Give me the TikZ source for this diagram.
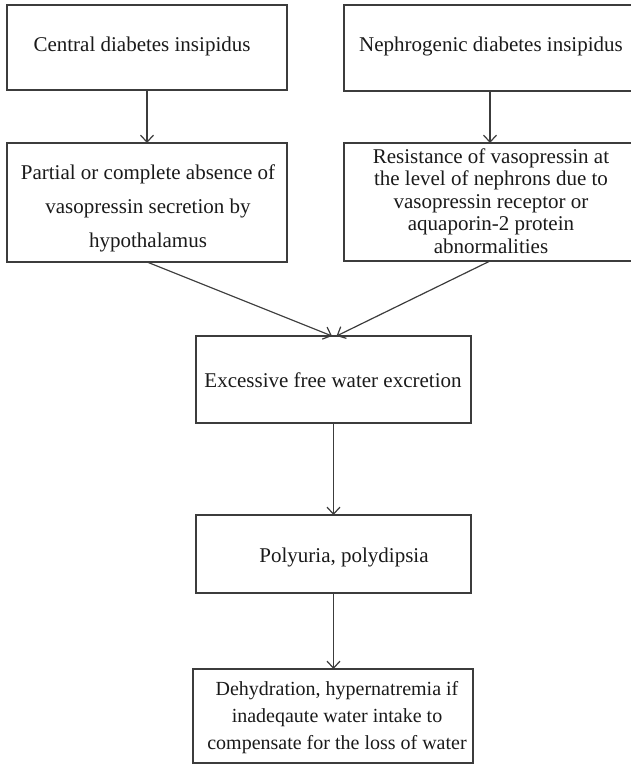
\documentclass[tikz,border=0pt]{standalone}
\usepackage{fontspec}
\setmainfont{Liberation Serif}
\usetikzlibrary{arrows.meta,calc}
\definecolor{linegray}{HTML}{3C3C3C}
\definecolor{textblack}{HTML}{1A1A1A}
\begin{document}
\begin{tikzpicture}[x=1pt,y=-1pt,
  box/.style={draw=linegray, line width=1.2pt, inner sep=0pt, outer sep=0pt},
  txt/.style={anchor=base, inner sep=0pt, text=textblack, font=\fontsize{21}{25}\selectfont},
  smalltxt/.style={txt, font=\fontsize{20}{24}\selectfont},
  arr/.style={draw=linegray, line width=1.2pt, -{Straight Barb[length=7pt,width=13pt]}}]
\useasboundingbox (0,0) rectangle (631,765);
% boxes
\node[box, minimum width=280pt, minimum height=85pt]  (b1) at (147,47.5) {};
\node[box, minimum width=292pt, minimum height=86pt]  (b2) at (490,48) {};
\node[box, minimum width=280pt, minimum height=119pt] (b3) at (147,202.5) {};
\node[box, minimum width=292pt, minimum height=118pt] (b4) at (490,202) {};
\node[box, minimum width=275pt, minimum height=87pt]  (b5) at (333.5,379.5) {};
\node[box, minimum width=275pt, minimum height=78pt]  (b6) at (333.5,554) {};
\node[box, minimum width=280pt, minimum height=94pt]  (b7) at (333,716) {};
% texts
\node[txt] (t1) at (142,52) {Central diabetes insipidus};
\node[txt] (t2) at (491,52) {Nephrogenic diabetes insipidus};
\node[txt] (t3a) at (148,179) {Partial or complete absence of};
\node[txt] (t3b) at (148,213) {vasopressin secretion by};
\node[txt] (t3c) at (148,247) {hypothalamus};
\node[txt] (t4a) at (491,163) {Resistance of vasopressin at};
\node[txt] (t4b) at (491,185.5) {the level of nephrons due to};
\node[txt] (t4c) at (491,208) {vasopressin receptor or};
\node[txt] (t4d) at (491,230.5) {aquaporin-2 protein};
\node[txt] (t4e) at (491,253) {abnormalities};
\node[txt] (t5) at (333,387) {Excessive free water excretion};
\node[txt] (t6) at (344,562) {Polyuria, polydipsia};
\node[smalltxt] (t7a) at (337,695) {Dehydration, hypernatremia if};
\node[smalltxt] (t7b) at (337,722) {inadeqaute water intake to};
\node[smalltxt] (t7c) at (337,749) {compensate for the loss of water};
% connectors
\draw[arr] (b1.south) -- (b1.south |- b3.north);
\draw[arr] (b2.south) -- (b2.south |- b4.north);
\draw[arr] (b3.south) -- ($(b5.north)+(-1.5,0)$);
\draw[arr] (b4.south) -- ($(b5.north)+(3,0)$);
\draw[arr] (b5.south) -- (b5.south |- b6.north);
\draw[arr] (b6.south) -- (b6.south |- b7.north);
\end{tikzpicture}
\end{document}
